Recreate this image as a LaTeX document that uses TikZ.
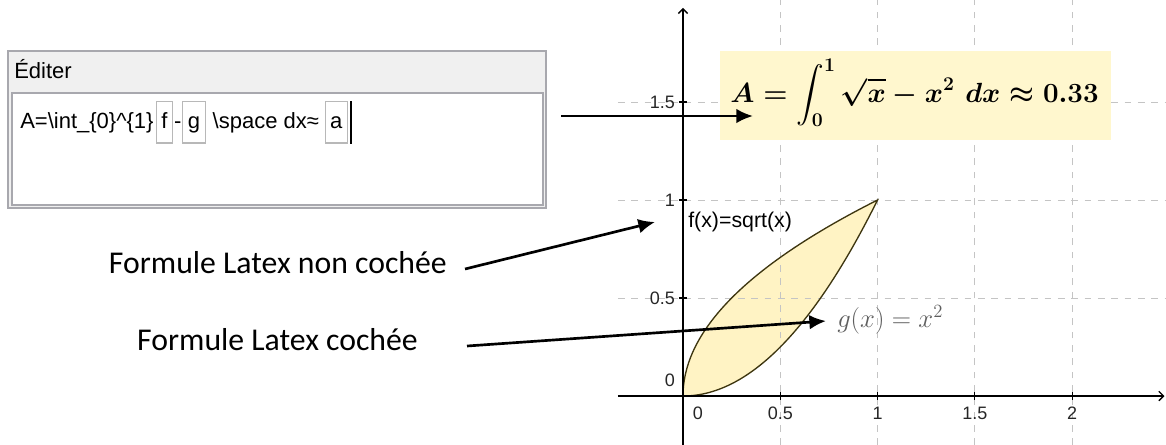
\RequirePackage{fix-cm}
\documentclass[tikz,border=0pt]{standalone}
\usepackage{amsmath}
\usepackage[no-math]{fontspec}
\setmainfont{Carlito}
\newfontfamily\guifont{Liberation Sans}
\usetikzlibrary{arrows.meta,positioning}

\definecolor{panelbg}{HTML}{F0F0F0}
\definecolor{panelline}{HTML}{A8A8AE}
\definecolor{slotline}{HTML}{B8B8B8}
\definecolor{formbg}{HTML}{FFF7CE}
\definecolor{areafill}{HTML}{FFF3C4}
\definecolor{areaedge}{HTML}{3E3610}
\definecolor{gridgray}{HTML}{C4C4C4}
\definecolor{labelgray}{HTML}{5E5E5E}

\newcommand{\areaformula}{$\displaystyle A=\int_0^1 \sqrt{x}-x^2\,\, dx\approx 0.33$}

\tikzset{
  lbl/.style={font=\fontsize{23.8}{28}\selectfont, inner sep=0pt},
  pointer/.style={-{Latex[length=12.5pt,width=11pt]}, line width=2pt},
  gridline/.style={gridgray, dash pattern=on 5pt off 5pt, line width=0.7pt},
  axis/.style={line width=1pt, -{Straight Barb[length=3.5pt,width=7pt]}},
  ticklbl/.style={font=\guifont\fontsize{13.5}{15}\selectfont, text=black!85, inner sep=0pt},
  edtext/.style={font=\guifont\fontsize{16.5}{19}\selectfont, inner xsep=0pt, text height=12pt, text depth=3.5pt},
  slot/.style={edtext, draw=slotline, line width=0.8pt, inner xsep=3.8pt, minimum height=31pt},
  bigmath/.style={font=\fontsize{20.8}{25}\selectfont\boldmath, inner sep=0pt},
}

\begin{document}
\begin{tikzpicture}[x=0.75pt, y=-0.75pt]
  \useasboundingbox (0,0) rectangle (1166,444);

  % editor panel
  \draw[panelline, fill=panelbg, line width=1.2pt] (8,51) rectangle (546,208);
  \draw[panelline, fill=white, line width=1.4pt] (12,93) rectangle (543,205);
  \node[edtext, anchor=west] (edtitle) at (14,73) {Éditer};

  \node[edtext, anchor=base west] (edA) at (20,128) {A=\textbackslash int\_\{0\}\textasciicircum\{1\}};
  \node[slot, right=1.5pt of edA] (slotf) {f};
  \node[edtext, right=0.5pt of slotf] (edminus) {-};
  \node[slot, right=0.5pt of edminus] (slotg) {g};
  \node[edtext, right=5pt of slotg] (edspace) {\textbackslash space dx≈};
  \node[slot, right=4pt of edspace] (slota) {a};
  \draw[line width=1.4pt] ([xshift=2.5pt]slota.north east) -- ([xshift=2.5pt]slota.south east);

  % graphics view
  \begin{scope}[shift={(683,396)}, x=145.9pt, y=147pt]
    \fill[areafill] plot[domain=0:1, samples=60, smooth] ({\x*\x},\x)
      -- plot[domain=1:0, samples=60, smooth] (\x,{\x*\x}) -- cycle;
    \foreach \gx in {0.5,1,1.5,2}
      \draw[gridline] (\gx,-0.25) -- (\gx,2.03);
    \foreach \gy in {0.5,1,1.5}
      \draw[gridline] (-0.335,\gy) -- (2.49,\gy);
    \draw[areaedge, line width=1pt] plot[domain=0:1, samples=60, smooth] ({\x*\x},\x)
      -- plot[domain=1:0, samples=60, smooth] (\x,{\x*\x}) -- cycle;

    \draw[axis] (-0.335,0) -- (2.475,0);
    \draw[axis] (0,-0.25) -- (0,1.98);
    \foreach \t in {0.5,1,1.5,2}
      \draw[line width=0.8pt] (\t,-0.02) -- (\t,0.02);
    \foreach \t in {0.5,1,1.5}
      \draw[line width=0.8pt] (-0.02,\t) -- (0.02,\t);

    \foreach \t [count=\i] in {0.5,1,1.5}
      \node[ticklbl, anchor=east] (ylab\i) at (-0.04,\t) {\t};
    \node[ticklbl, anchor=east] (ylab0) at (-0.04,0.08) {0};
    \node[ticklbl] (xlab0) at (0.077,-0.088) {0};
    \foreach \t [count=\i] in {0.5,1,1.5,2}
      \node[ticklbl] (xlab\i) at (\t,-0.088) {\t};
  \end{scope}

  \node[fill=formbg, minimum width=293.25pt, minimum height=66.75pt, inner sep=0pt] (formbox) at (915.5,95.5) {};
  \node[bigmath, anchor=base] (formula) at (914.5,102) {\areaformula};

  \node[font=\guifont\fontsize{16}{19}\selectfont, anchor=base west, inner sep=0pt] (flab) at (688,227) {f(x)=sqrt(x)};
  \node[anchor=base west, inner sep=0pt, text=labelgray, font=\fontsize{20}{24}\selectfont] (glab) at (837,327) {$g(x) = x^2$};

  % comments on the left
  \node[lbl, anchor=east] (rawlbl) at (447,263) {Formule Latex non cochée};
  \node[lbl, anchor=east] (ltxlbl) at (418,340) {Formule Latex cochée};

  \coordinate (edtail) at (561,116);
  \coordinate (eqtip) at (753,116);
  \coordinate (rawtail) at (465,269);
  \coordinate (rawtip) at (655,222);
  \coordinate (ltxtail) at (467,346);
  \coordinate (ltxtip) at (826,321);

  \draw[pointer] (edtail) -- (eqtip);
  \draw[pointer] (rawtail) -- (rawtip);
  \draw[pointer] (ltxtail) -- (ltxtip);
\end{tikzpicture}
\end{document}
